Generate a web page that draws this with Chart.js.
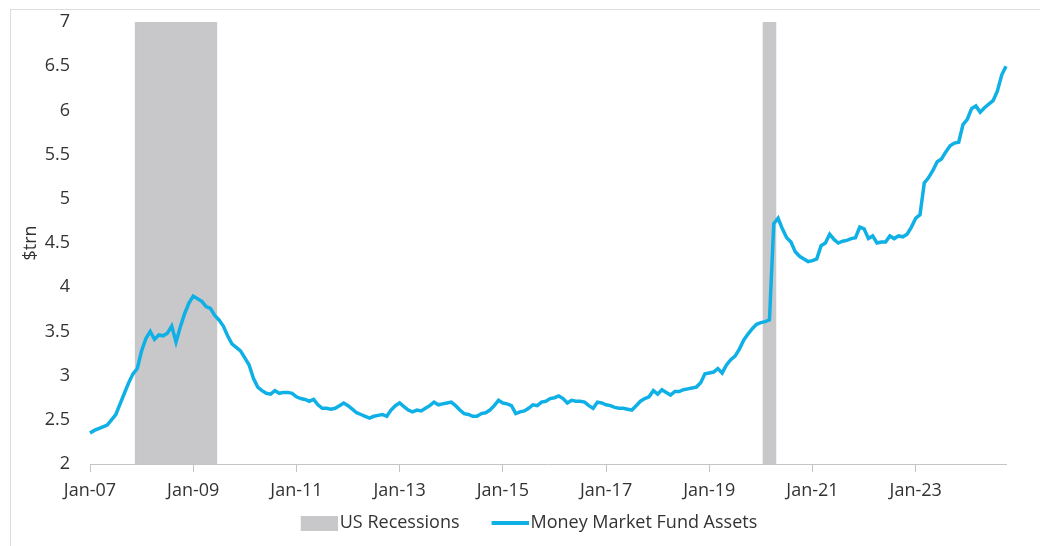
<!DOCTYPE html>
<html>
<head>
<meta charset="utf-8">
<script src="https://cdn.jsdelivr.net/npm/chart.js@4"></script>
<style>
    body { margin: 0; background: #fff; }
    .wrap { position: relative; width: 1040px; height: 546px; }
    .frame { position: absolute; left: 10px; top: 9px; right: 0; bottom: 0; border-top: 1px solid #dcdcdc; border-left: 1px solid #dcdcdc; }
</style>
</head>
<body>
<div class="wrap">
    <div class="frame"></div>
    <canvas id="mmfChart"></canvas>
</div>
<script>
const monthNames = ['Jan', 'Feb', 'Mar', 'Apr', 'May', 'Jun', 'Jul', 'Aug', 'Sep', 'Oct', 'Nov', 'Dec'];
const firstYear = 2007;
const monthCount = 214; // Jan-07 .. Oct-24

// $trn, monthly
const mmfAssets = [
    2.35, 2.38, 2.40, 2.42, 2.44, 2.50, 2.56, 2.68, 2.80, 2.92, 3.02, 3.08,
    3.28, 3.42, 3.50, 3.41, 3.46, 3.45, 3.48, 3.56, 3.38, 3.55, 3.70, 3.82,
    3.90, 3.87, 3.84, 3.78, 3.76, 3.68, 3.63, 3.56, 3.45, 3.36, 3.32, 3.28,
    3.20, 3.12, 2.97, 2.87, 2.83, 2.80, 2.79, 2.83, 2.80, 2.81, 2.81, 2.80,
    2.76, 2.74, 2.73, 2.71, 2.73, 2.67, 2.63, 2.63, 2.62, 2.63, 2.66, 2.69,
    2.66, 2.62, 2.58, 2.56, 2.54, 2.52, 2.54, 2.55, 2.56, 2.54, 2.61, 2.66,
    2.69, 2.65, 2.61, 2.59, 2.61, 2.60, 2.63, 2.66, 2.70, 2.67, 2.68, 2.69,
    2.70, 2.66, 2.61, 2.57, 2.56, 2.54, 2.54, 2.57, 2.58, 2.61, 2.66, 2.72,
    2.69, 2.68, 2.66, 2.57, 2.59, 2.60, 2.63, 2.67, 2.66, 2.70, 2.71, 2.74,
    2.75, 2.77, 2.74, 2.69, 2.72, 2.71, 2.71, 2.70, 2.66, 2.63, 2.70, 2.69,
    2.67, 2.66, 2.64, 2.63, 2.63, 2.62, 2.61, 2.66, 2.71, 2.74, 2.76, 2.83,
    2.79, 2.84, 2.81, 2.78, 2.82, 2.82, 2.84, 2.85, 2.86, 2.87, 2.92, 3.02,
    3.03, 3.04, 3.08, 3.03, 3.12, 3.18, 3.22, 3.30, 3.40, 3.47, 3.53, 3.58,
    3.60, 3.61, 3.63, 4.72, 4.78, 4.66, 4.56, 4.51, 4.40, 4.35, 4.32, 4.29,
    4.30, 4.32, 4.47, 4.50, 4.60, 4.54, 4.50, 4.52, 4.53, 4.55, 4.56, 4.68,
    4.66, 4.55, 4.58, 4.50, 4.51, 4.51, 4.58, 4.55, 4.58, 4.57, 4.60, 4.68,
    4.78, 4.82, 5.18, 5.24, 5.32, 5.42, 5.45, 5.53, 5.60, 5.63, 5.64, 5.84,
    5.90, 6.02, 6.05, 5.98, 6.03, 6.07, 6.11, 6.22, 6.40, 6.50
];

const recessions = [['Dec-07', 'Jun-09'], ['Feb-20', 'Apr-20']];
const yTicks = { min: 2, max: 7, step: 0.5 };

const monthLabels = [];
for (let i = 0; i < monthCount; i++) {
    const year = firstYear + Math.floor(i / 12);
    monthLabels.push(`${monthNames[i % 12]}-${String(year).slice(2)}`);
}

const recessionBars = monthLabels.map(() => null);
recessions.forEach(([from, to]) => {
    for (let i = monthLabels.indexOf(from); i <= monthLabels.indexOf(to); i++) {
        recessionBars[i] = yTicks.max;
    }
});

const isTickMonth = (label) => label.startsWith('Jan') && parseInt(label.slice(4)) % 2 === 1;

// legend swatches: 37px mark on the right, transparent lead-in on the left
const swatch = (h, color) => {
    const c = document.createElement('canvas');
    c.width = 66;
    c.height = h;
    const g = c.getContext('2d');
    g.fillStyle = color;
    g.fillRect(29, 0, 37, h);
    return c;
};
const grey = '#c8c8ca';
const blue = '#0fb0e6';
const swatches = [swatch(15, grey), swatch(4, blue)];

Chart.defaults.font.family = "'Open Sans', sans-serif";
Chart.defaults.color = '#333';

new Chart(document.getElementById('mmfChart'), {
    type: 'bar',
    data: {
        labels: monthLabels,
        datasets: [{
            label: 'US Recessions',
            data: recessionBars,
            backgroundColor: grey,
            borderWidth: 0,
            barPercentage: 1,
            categoryPercentage: 1,
            order: 2
        },
        {
            type: 'line',
            label: 'Money Market Fund Assets',
            data: mmfAssets,
            borderColor: blue,
            borderWidth: 3.5,
            pointRadius: 0,
            tension: 0,
            order: 1
        }]
    },
    options: {
        responsive: true,
        maintainAspectRatio: false,
        animation: false,
        layout: {
            padding: { left: 30, right: 34, top: 22, bottom: 4 }
        },
        scales: {
            x: {
                offset: false,
                afterBuildTicks: (scale) => {
                    scale.ticks = scale.ticks.filter(t => isTickMonth(monthLabels[t.value]));
                },
                afterFit: (scale) => { scale.height = 40; },
                grid: {
                    offset: false,
                    drawOnChartArea: false,
                    drawTicks: true,
                    tickLength: 8,
                    color: '#c4c4c4'
                },
                border: { display: true, color: '#c4c4c4' },
                ticks: {
                    autoSkip: false,
                    maxRotation: 0,
                    padding: 8,
                    font: { size: 18 },
                    color: '#333'
                }
            },
            y: {
                min: yTicks.min,
                max: yTicks.max,
                afterFit: (scale) => { scale.width = 60; },
                // invisible tick marks keep the labels 20px off the plot
                grid: {
                    drawOnChartArea: false,
                    drawTicks: true,
                    tickLength: 20,
                    color: 'rgba(0,0,0,0)'
                },
                border: { display: false },
                ticks: {
                    stepSize: yTicks.step,
                    padding: 0,
                    font: { size: 18 },
                    color: '#333',
                    callback: (v) => String(Math.round(v * 10) / 10)
                },
                title: {
                    display: true,
                    text: '$trn',
                    font: { size: 18 },
                    color: '#333',
                    padding: { top: -10, bottom: 0 }
                }
            }
        },
        plugins: {
            tooltip: { enabled: false },
            legend: {
                position: 'bottom',
                labels: {
                    usePointStyle: true,
                    pointStyleWidth: 52,
                    padding: 10,
                    font: { size: 18 },
                    color: '#333',
                    sort: (a, b) => a.datasetIndex - b.datasetIndex,
                    generateLabels: (chart) => {
                        const items = Chart.defaults.plugins.legend.labels.generateLabels(chart);
                        items.forEach(item => { item.pointStyle = swatches[item.datasetIndex]; });
                        return items;
                    }
                }
            }
        }
    }
});
</script>
</body>
</html>
